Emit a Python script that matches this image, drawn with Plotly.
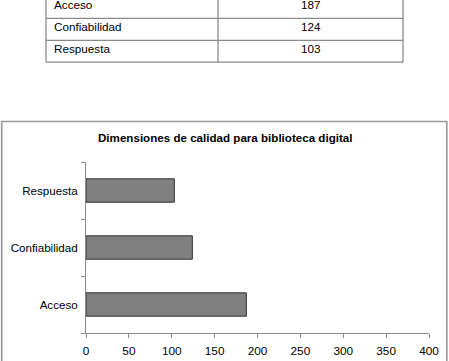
import plotly.graph_objects as go

# ---- data ----
categories = ["Acceso", "Confiabilidad", "Respuesta"]
values = [187, 124, 103]
table_labels = ["Acceso", "Confiabilidad", "Respuesta"]
table_values = [187, 124, 103]
title_text = "Dimensiones de calidad para biblioteca digital"

W, H = 449, 361
FONT = "Liberation Sans, Arial, sans-serif"

def px(x):
    return x / W

def py(y):
    return 1 - y / H

fig = go.Figure()
fig.add_trace(go.Bar(
    y=categories, x=values, orientation="h", width=0.41,
    marker=dict(color="#808080", line=dict(color="#303030", width=1)),
    hoverinfo="x+y",
))

shapes = []
annotations = []

# ---- table (built from table arrays) ----
t_left, t_mid, t_right = 46, 218, 403
t_top, row_h = -3.5, 21.9
n = len(table_labels)
line_c = "#8a8a8a"
for xv in (t_left, t_mid, t_right):
    shapes.append(dict(type="line", xref="paper", yref="paper",
                       x0=px(xv), x1=px(xv), y0=py(t_top), y1=py(t_top + n * row_h),
                       line=dict(color=line_c, width=1.3)))
for i in range(n + 1):
    yy = t_top + i * row_h
    shapes.append(dict(type="line", xref="paper", yref="paper",
                       x0=px(t_left), x1=px(t_right), y0=py(yy), y1=py(yy),
                       line=dict(color=line_c, width=1.3)))
for i, (lab, val) in enumerate(zip(table_labels, table_values)):
    yc = t_top + i * row_h + 8.0
    annotations.append(dict(text=lab, xref="paper", yref="paper", x=px(52), y=py(yc),
                            xanchor="left", yanchor="middle", showarrow=False,
                            font=dict(family=FONT, size=11.7, color="#000")))
    annotations.append(dict(text=str(val), xref="paper", yref="paper",
                            x=px((t_mid + t_right) / 2), y=py(yc),
                            xanchor="center", yanchor="middle", showarrow=False,
                            font=dict(family=FONT, size=11.7, color="#000")))

# ---- chart frame ----
shapes.append(dict(type="rect", xref="paper", yref="paper",
                   x0=px(1.7), x1=px(446.8), y0=py(365), y1=py(121.5),
                   line=dict(color="#979797", width=1.6), layer="below"))

# ---- title ----
annotations.append(dict(text="<b>" + title_text + "</b>", xref="paper", yref="paper",
                        x=px(225.5), y=py(137.5), xanchor="center", yanchor="middle",
                        showarrow=False, font=dict(family=FONT, size=11.6, color="#000")))

fig.update_layout(
    width=W, height=H,
    margin=dict(l=0, r=0, t=0, b=0, autoexpand=False),
    paper_bgcolor="white", plot_bgcolor="white",
    showlegend=False,
    shapes=shapes, annotations=annotations,
    xaxis=dict(domain=[px(86), px(429)], range=[0, 400], dtick=50,
               showline=True, linecolor="#8a8a8a", linewidth=1,
               ticks="outside", ticklen=4, tickcolor="#8a8a8a",
               ticklabelstandoff=3,
               showgrid=False, zeroline=False, fixedrange=True, automargin=False,
               tickfont=dict(family=FONT, size=11.8, color="#000")),
    yaxis=dict(domain=[py(333), py(162)], type="category",
               categoryorder="array", categoryarray=categories,
               range=[-0.5, 2.5], tickson="boundaries",
               showline=True, linecolor="#8a8a8a", linewidth=1,
               ticks="outside", ticklen=4, tickcolor="#8a8a8a",
               ticklabelstandoff=5,
               showgrid=False, zeroline=False, fixedrange=True, automargin=False,
               tickfont=dict(family=FONT, size=11.6, color="#000")),
)

fig.write_html("out.html")
